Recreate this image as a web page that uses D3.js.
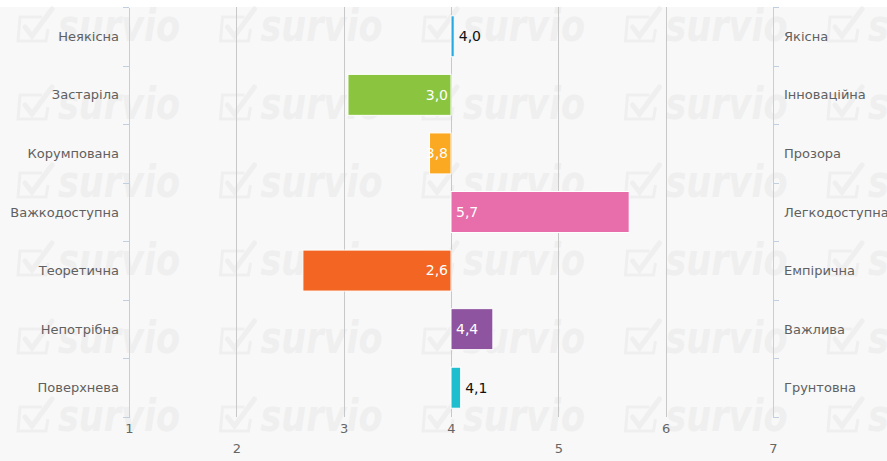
<!DOCTYPE html>
<html>
<head>
<meta charset="utf-8">
<script src="https://cdn.jsdelivr.net/npm/d3@7"></script>
<style>
  body { margin: 0; background: #fff; }
  svg { display: block; font-family: "DejaVu Sans", sans-serif; }
  .axis path, .axis line { shape-rendering: crispEdges; }
</style>
</head>
<body>
<svg id="chart" width="887" height="461"></svg>
<script>
// data
const leftLabels = ["Неякісна", "Застаріла", "Корумпована", "Важкодоступна", "Теоретична", "Непотрібна", "Поверхнева"];
const rightLabels = ["Якісна", "Інноваційна", "Прозора", "Легкодоступна", "Емпірична", "Важлива", "Грунтовна"];
const values = [4.03, 3.04, 3.80, 5.66, 2.62, 4.39, 4.09];
const barColors = ["#2aa8e0", "#8bc53f", "#fba823", "#e76dab", "#f26522", "#8e54a0", "#1ebecf"];
const tickValues = [1, 2, 3, 4, 5, 6, 7];
const baseline = 4;

const width = 887, height = 461;
const plotLeft = 129, plotRight = 773, plotTop = 7, plotBottom = 417;

const svg = d3.select("#chart");

svg.append("rect").attr("x", 0).attr("y", plotTop).attr("width", width).attr("height", height - plotTop)
    .style("fill", "#f8f8f8");

// watermark tiles
const wmColor = "#efefef";
const wm = svg.append("g").attr("class", "watermark");
d3.range(6).forEach(function(r){
    d3.range(5).forEach(function(c){
        let bx = 18 + c * 202.5, by = 41 + r * 78;
        let g = wm.append("g").attr("transform", "translate(" + bx + "," + by + ")");
        g.append("path")
            .attr("d", "M24,-24 L2,-24 L0,0 L28,0 L30,-12")
            .style("fill", "none").style("stroke", wmColor).style("stroke-width", 3);
        g.append("path")
            .attr("d", "M7,-14 L14,-5 L34,-32")
            .style("fill", "none").style("stroke", wmColor).style("stroke-width", 5)
            .style("stroke-linecap", "round");
        g.append("text")
            .attr("x", 40).attr("y", 0)
            .attr("textLength", 122).attr("lengthAdjust", "spacingAndGlyphs")
            .style("font-size", "44px").style("font-weight", "bold").style("font-style", "italic")
            .style("fill", wmColor)
            .text("survio");
    });
});

const x = d3.scaleLinear().domain([1, 7]).range([plotLeft, plotRight]);
const y = d3.scaleBand().domain(d3.range(leftLabels.length)).range([plotTop, plotBottom]);
const yLin = d3.scaleLinear().domain([0, leftLabels.length]).range([plotTop, plotBottom]);
const barH = y.bandwidth() * 0.7;

// gridlines
svg.append("g").attr("class", "axis grid")
    .attr("transform", "translate(0," + plotBottom + ")")
    .call(d3.axisBottom(x).tickValues(tickValues.slice(1, -1)).tickSize(-(plotBottom - plotTop)).tickFormat(""))
    .call(g => g.select(".domain").remove())
    .call(g => g.selectAll("line").style("stroke", "#c8c8c8"));

// side axis lines with ticks at band edges
svg.append("g").attr("class", "axis")
    .attr("transform", "translate(" + plotLeft + ",0)")
    .call(d3.axisLeft(yLin).ticks(leftLabels.length).tickSize(6).tickSizeOuter(0).tickFormat(""))
    .call(g => g.selectAll("path, line").style("stroke", "#c0d0e0"));
svg.append("g").attr("class", "axis")
    .attr("transform", "translate(" + plotRight + ",0)")
    .call(d3.axisRight(yLin).ticks(leftLabels.length).tickSize(6).tickSizeOuter(0).tickFormat(""))
    .call(g => g.selectAll("path, line").style("stroke", "#c0d0e0"));

// x tick labels (staggered like the original)
const lowRow = [2, 5, 7];
svg.append("g").attr("class", "axis xlabels")
    .attr("transform", "translate(0," + plotBottom + ")")
    .call(d3.axisBottom(x).tickValues(tickValues).tickSize(0).tickPadding(0).tickFormat(d3.format("d")))
    .call(g => g.select(".domain").remove())
    .call(g => g.selectAll("text")
        .attr("y", d => lowRow.includes(d) ? 36 : 16)
        .attr("dy", 0)
        .style("font-size", "13px")
        .style("font-family", "DejaVu Sans, sans-serif")
        .style("fill", "#666"));

// category labels
svg.append("g").selectAll("text").data(leftLabels).join("text")
    .attr("x", plotLeft - 10).attr("y", (d, i) => y(i) + y.bandwidth() / 2)
    .attr("dy", "0.35em").attr("text-anchor", "end")
    .style("font-size", "13px").style("fill", "#606060")
    .text(d => d);
svg.append("g").selectAll("text").data(rightLabels).join("text")
    .attr("x", plotRight + 11).attr("y", (d, i) => y(i) + y.bandwidth() / 2)
    .attr("dy", "0.35em").attr("text-anchor", "start")
    .style("font-size", "13px").style("fill", "#606060")
    .text(d => d);

// bars
svg.append("g").selectAll("rect").data(values).join("rect")
    .attr("x", d => Math.min(x(d), x(baseline)))
    .attr("y", (d, i) => y(i) + (y.bandwidth() - barH) / 2)
    .attr("width", d => Math.abs(x(d) - x(baseline)))
    .attr("height", barH)
    .style("fill", (d, i) => barColors[i])
    .style("stroke", "#fff").style("stroke-width", 1);

// data labels
const fmt = d => d.toFixed(1).replace(".", ",");
svg.append("g").selectAll("text").data(values).join("text")
    .each(function(d, i){
        let w = Math.abs(x(d) - x(baseline));
        let sel = d3.select(this)
            .attr("y", y(i) + y.bandwidth() / 2)
            .attr("dy", "0.35em")
            .style("font-size", "14px")
            .text(fmt(d));
        if (d >= baseline && w < 30) {
            sel.attr("x", x(d) + 4.5).attr("text-anchor", "start").style("fill", "#111");
        } else if (d >= baseline) {
            sel.attr("x", x(baseline) + 5).attr("text-anchor", "start").style("fill", "#fff");
        } else {
            sel.attr("x", x(baseline) - 3).attr("text-anchor", "end").style("fill", "#fff");
        }
    });
</script>
</body>
</html>
